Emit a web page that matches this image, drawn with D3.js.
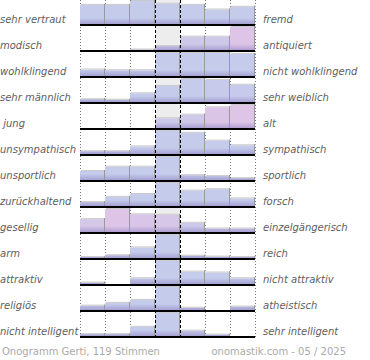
<!DOCTYPE html>
<html><head><meta charset="utf-8">
<script src="https://cdn.jsdelivr.net/npm/d3@7"></script>
<style>html,body{margin:0;padding:0;background:#fff;}svg{display:block;}</style>
</head><body>
<svg id="chart" width="370" height="360"></svg>
<script>
const leftLabels = ["sehr vertraut","modisch","wohlklingend","sehr männlich"," jung","unsympathisch","unsportlich","zurückhaltend","gesellig","arm","attraktiv","religiös","nicht intelligent"];
const rightLabels = ["fremd","antiquiert","nicht wohlklingend","sehr weiblich","alt","sympathisch","sportlich","forsch","einzelgängerisch","reich","nicht attraktiv","atheistisch","sehr intelligent"];
const columns = [0,1,2,3,4,5,6];
// relative vote share per column (row max = 100)
const votes = [
  [83, 83, 100, 88, 83, 63, 75],
  [0, 0, 2, 17, 58, 58, 100],
  [28, 25, 25, 100, 100, 100, 96],
  [12, 10, 38, 70, 100, 96, 75],
  [0, 0, 0, 42, 58, 90, 100],
  [12, 12, 33, 100, 92, 58, 38],
  [39, 58, 58, 100, 21, 17, 8],
  [17, 40, 52, 100, 67, 73, 33],
  [56, 100, 77, 75, 40, 15, 15],
  [4, 12, 46, 100, 10, 6, 4],
  [6, 0, 25, 100, 54, 50, 25],
  [19, 31, 44, 100, 10, 0, 15],
  [8, 8, 40, 100, 23, 6, 0]
];
// share of female voters (0 = blue, 1 = pink)
const femaleShare = [
  [0,0,0,0,0,0,0],
  [0,0,0,0.3,0.4,0.4,1],
  [0,0,0,0,0,0,0],
  [0,0,0,0,0,0.1,0.1],
  [0,0,0,0.3,0.4,0.9,1],
  [0,0,0,0,0,0,0],
  [0,0,0,0,0,0,0],
  [0,0,0,0,0,0,0],
  [0.6,1,0.8,0.7,0.3,0.2,0.2],
  [0,0,0,0,0,0,0],
  [0,0,0,0,0,0,0],
  [0,0,0,0,0,0,0],
  [0,0,0,0,0,0,0]
];
const footerLeft = "Onogramm Gerti, 119 Stimmen";
const footerRight = "onomastik.com - 05 / 2025";

const svg = d3.select("#chart");
const x = d3.scaleBand().domain(columns).range([80, 255]).paddingInner(0).paddingOuter(0);
const row = d3.scaleBand().domain(d3.range(leftLabels.length)).range([0, 338]);
const h = d3.scaleLinear().domain([0, 100]).range([0, 23]);
const colorMix = d3.interpolateRgb("#c4cbeb", "#dec4e6");

const defs = svg.append("defs");
const g = defs.append("linearGradient").attr("id","shade").attr("gradientUnits","userSpaceOnUse")
  .attr("x1",0).attr("x2",0).attr("y1",-6).attr("y2",0);
g.append("stop").attr("offset",0).attr("stop-color","#8d7fc0").attr("stop-opacity",0);
g.append("stop").attr("offset",1).attr("stop-color","#8d7fc0").attr("stop-opacity",0.55);

const bottom = row(leftLabels.length-1) + 26;
// middle column background
svg.append("rect").attr("x", x(3)).attr("y", 0).attr("width", x.bandwidth()).attr("height", bottom - 2).attr("fill", "#ededed");

// dotted grid lines
const dotted = [0,1,2,5,6].map(c => x(c)).concat([x(6)+x.bandwidth()]);
svg.selectAll("line.dot").data(dotted).join("line").attr("class","dot")
  .attr("x1", d => d + 0.5).attr("x2", d => d + 0.5).attr("y1", 0).attr("y2", bottom - 1)
  .attr("stroke", "#777").attr("stroke-dasharray", "1,2");

const rows = svg.selectAll("g.row").data(votes).join("g").attr("class","row")
  .attr("transform", (d,i) => `translate(0,${row(i) + 24})`);

rows.each(function(vals, ri) {
  const gr = d3.select(this);
  const bars = vals.map((v,ci) => ({v, ci, f: femaleShare[ri][ci]})).filter(d => d.v > 0);
  gr.selectAll("rect.bar").data(bars).join("rect").attr("class","bar")
    .attr("x", d => x(d.ci)).attr("width", x.bandwidth())
    .attr("y", d => -h(d.v)).attr("height", d => h(d.v))
    .attr("fill", d => colorMix(d.f));
  gr.selectAll("rect.sh").data(bars).join("rect").attr("class","sh")
    .attr("x", d => x(d.ci)).attr("width", x.bandwidth())
    .attr("y", d => -h(d.v)).attr("height", d => h(d.v))
    .attr("fill", "url(#shade)");
  gr.selectAll("line.top").data(bars).join("line").attr("class","top")
    .attr("x1", d => x(d.ci) + 1).attr("x2", d => x(d.ci) + x.bandwidth() + 1)
    .attr("y1", d => -h(d.v) - 0.5).attr("y2", d => -h(d.v) - 0.5)
    .attr("stroke", "#cacaca");
  gr.selectAll("line.edge").data(bars).join("line").attr("class","edge")
    .attr("x1", d => x(d.ci) + x.bandwidth() - 0.5).attr("x2", d => x(d.ci) + x.bandwidth() - 0.5)
    .attr("y1", d => -h(d.v) - 1).attr("y2", 0)
    .attr("stroke", "#999");
});

// middle dashed lines
svg.selectAll("line.dash").data([x(3), x(4)]).join("line").attr("class","dash")
  .attr("x1", d => d + 0.5).attr("x2", d => d + 0.5).attr("y1", 0).attr("y2", bottom - 1)
  .attr("stroke", "#000").attr("stroke-dasharray", "3,2");

// baselines
svg.selectAll("rect.base").data(votes).join("rect").attr("class","base")
  .attr("x", x(0)).attr("width", x(6) + x.bandwidth() - x(0)).attr("y", (d,i) => row(i) + 24).attr("height", 2)
  .attr("fill", "#000");

const textStyle = sel => sel.attr("font-family", "'DejaVu Sans', Verdana, sans-serif").attr("font-size", 10)
  .attr("font-style", "italic").attr("fill", "#5e5e5e").style("white-space", "pre");

svg.selectAll("text.left").data(leftLabels).join("text").attr("class","left")
  .attr("x", 0).attr("y", (d,i) => row(i) + 23).text(d => d).call(textStyle);
svg.selectAll("text.right").data(rightLabels).join("text").attr("class","right")
  .attr("x", 263).attr("y", (d,i) => row(i) + 23).text(d => d).call(textStyle);

svg.append("text").attr("x", 2).attr("y", 355).text(footerLeft)
  .attr("font-family", "'DejaVu Sans', sans-serif").attr("font-size", 10).attr("fill", "#aaa");
svg.append("text").attr("x", 346).attr("y", 355).attr("text-anchor", "end").text(footerRight)
  .attr("font-family", "'DejaVu Sans', sans-serif").attr("font-size", 10).attr("fill", "#aaa");
</script>
</body></html>
